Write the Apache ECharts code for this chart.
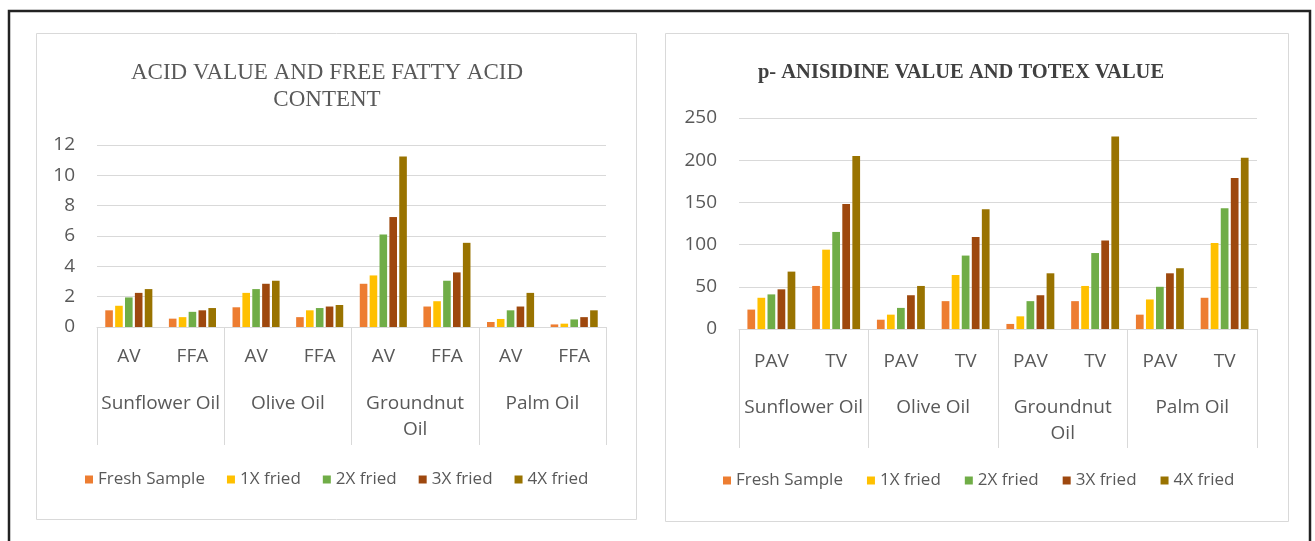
<!DOCTYPE html>
<html>
<head>
<meta charset="utf-8">
<script src="https://cdn.jsdelivr.net/npm/echarts@6/dist/echarts.min.js"></script>
<style>html,body{margin:0;padding:0;background:#fff;}#c{width:1315px;height:541px;}</style>
</head>
<body>
<div id="c"></div>
<script>
// ---- data ----
const oils = ['Sunflower Oil', 'Olive Oil', 'Groundnut Oil', 'Palm Oil'];
const acidSub = ['AV', 'FFA', 'AV', 'FFA', 'AV', 'FFA', 'AV', 'FFA'];
const pavSub = ['PAV', 'TV', 'PAV', 'TV', 'PAV', 'TV', 'PAV', 'TV'];
const seriesNames = ['Fresh Sample', '1X fried', '2X fried', '3X fried', '4X fried'];
const acidTitle = 'ACID VALUE AND FREE FATTY ACID\nCONTENT';
const pavTitle = 'p- ANISIDINE VALUE AND TOTEX VALUE';

const acidFresh = [1.1, 0.55, 1.3, 0.65, 2.85, 1.35, 0.33, 0.17];
const acid1X    = [1.4, 0.65, 2.25, 1.1, 3.4, 1.7, 0.53, 0.22];
const acid2X    = [1.95, 1.0, 2.5, 1.25, 6.1, 3.05, 1.1, 0.5];
const acid3X    = [2.25, 1.1, 2.85, 1.35, 7.25, 3.6, 1.35, 0.65];
const acid4X    = [2.5, 1.25, 3.05, 1.45, 11.25, 5.55, 2.25, 1.1];

const pavFresh = [23, 51, 11, 33, 6, 33, 17, 37];
const pav1X    = [37, 94, 17, 64, 15, 51, 35, 102];
const pav2X    = [41, 115, 25, 87, 33, 90, 50, 143];
const pav3X    = [47, 148, 40, 109, 40, 105, 66, 179];
const pav4X    = [68, 205, 51, 142, 66, 228, 72, 203];

const colors = ['#ED7D31', '#FFC000', '#70AD47', '#9E480E', '#997300'];
const acidData = [acidFresh, acid1X, acid2X, acid3X, acid4X];
const pavData = [pavFresh, pav1X, pav2X, pav3X, pav4X];

// ---- chart ----
const TXT = '#595959';
const FONT = 'Open Sans';
const AX = 19;
const chart = echarts.init(document.getElementById('c'), null, {renderer: 'canvas'});

function wrapOil(v) { return v.replace('Groundnut Oil', 'Groundnut\nOil'); }

const series = [];
seriesNames.forEach((n, i) => {
  series.push({type: 'bar', name: n, xAxisIndex: 0, yAxisIndex: 0, data: acidData[i],
    itemStyle: {color: colors[i]}, barCategoryGap: '26%', barGap: '30%'});
});
seriesNames.forEach((n, i) => {
  series.push({type: 'bar', name: n, xAxisIndex: 2, yAxisIndex: 1, data: pavData[i],
    itemStyle: {color: colors[i]}, barCategoryGap: '26%', barGap: '30%'});
});

const grayLine = {lineStyle: {color: '#d9d9d9', width: 1}};

chart.setOption({
  backgroundColor: '#fff',
  animation: false,
  color: colors,
  graphic: [
    {type: 'rect', z: -10, shape: {x: 36.5, y: 33.5, width: 600, height: 486}, style: {fill: '#fff', stroke: '#d9d9d9', lineWidth: 1}},
    {type: 'rect', z: -10, shape: {x: 665.5, y: 33.5, width: 623, height: 488}, style: {fill: '#fff', stroke: '#d9d9d9', lineWidth: 1}},
    {type: 'polyline', z: -5, shape: {points: [[9, 541], [9, 11], [1310, 11], [1310, 541]]}, style: {fill: null, stroke: '#222', lineWidth: 2.5}}
  ],
  title: [
    {text: acidTitle, left: 322, top: 54, textAlign: 'center',
      textStyle: {fontFamily: 'Liberation Serif', fontSize: 23, fontWeight: 'normal', color: TXT, lineHeight: 27}},
    {text: pavTitle, left: 956, top: 57, textAlign: 'center',
      textStyle: {fontFamily: 'Liberation Serif', fontSize: 20.5, fontWeight: 'bold', color: '#404040'}}
  ],
  legend: [
    {data: seriesNames, left: 80, top: 466, icon: 'rect', itemWidth: 8, itemHeight: 8, itemGap: 22,
      textStyle: {fontFamily: FONT, fontSize: 17, color: TXT}, selectedMode: false},
    {data: seriesNames, left: 718, top: 467, icon: 'rect', itemWidth: 8, itemHeight: 8, itemGap: 24,
      textStyle: {fontFamily: FONT, fontSize: 17, color: TXT}, selectedMode: false}
  ],
  grid: [
    {left: 97, right: 1315 - 606, top: 145, bottom: 541 - 327, containLabel: false},
    {left: 739, right: 1315 - 1257, top: 118, bottom: 541 - 329, containLabel: false}
  ],
  xAxis: [
    {type: 'category', gridIndex: 0, data: acidSub, axisLine: {show: true, ...grayLine}, axisTick: {show: false},
      axisLabel: {margin: 20, fontFamily: FONT, fontSize: AX, color: TXT, interval: 0}},
    {type: 'category', gridIndex: 0, data: oils, position: 'bottom', axisLine: {show: false},
      axisTick: {show: true, length: 118, ...grayLine},
      axisLabel: {margin: 64, fontFamily: FONT, fontSize: AX, color: TXT, interval: 0, lineHeight: 26, formatter: wrapOil}},
    {type: 'category', gridIndex: 1, data: pavSub, axisLine: {show: true, ...grayLine}, axisTick: {show: false},
      axisLabel: {margin: 23, fontFamily: FONT, fontSize: AX, color: TXT, interval: 0}},
    {type: 'category', gridIndex: 1, data: oils, position: 'bottom', axisLine: {show: false},
      axisTick: {show: true, length: 119, ...grayLine},
      axisLabel: {margin: 66, fontFamily: FONT, fontSize: AX, color: TXT, interval: 0, lineHeight: 26, formatter: wrapOil}}
  ],
  yAxis: [
    {type: 'value', gridIndex: 0, min: 0, max: 12, interval: 2, axisLine: {show: false}, axisTick: {show: false},
      splitLine: {show: true, ...grayLine},
      axisLabel: {margin: 22, fontFamily: FONT, fontSize: AX, color: TXT}},
    {type: 'value', gridIndex: 1, min: 0, max: 250, interval: 50, axisLine: {show: false}, axisTick: {show: false},
      splitLine: {show: true, ...grayLine},
      axisLabel: {margin: 22, fontFamily: FONT, fontSize: AX, color: TXT}}
  ],
  series: series
});
</script>
</body>
</html>
